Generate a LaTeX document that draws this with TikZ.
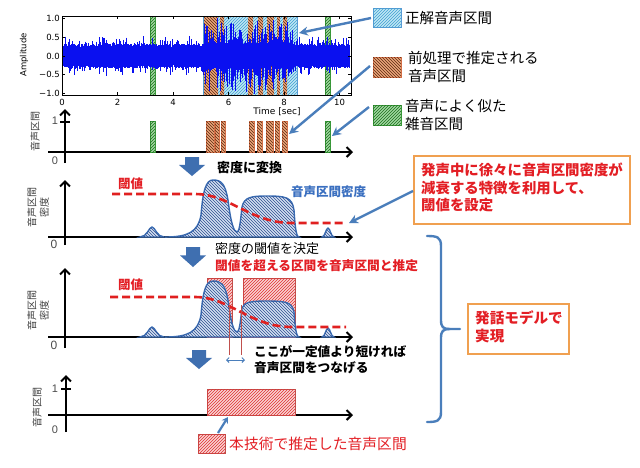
\documentclass[tikz,border=0pt]{standalone}
\usepackage{fontspec}
\setmainfont{Liberation Sans}
\newfontfamily\jp{Noto Sans CJK JP}
\newfontfamily\mpl{DejaVu Sans}
\usetikzlibrary{patterns,arrows.meta}
\definecolor{cyanbg}{HTML}{BFE6F5}
\definecolor{cyanln}{HTML}{3FA0D0}
\definecolor{cyanbd}{HTML}{5B9BD5}
\definecolor{orangebg}{HTML}{EBA57A}
\definecolor{orangeln}{HTML}{5A2A10}
\definecolor{orangebd}{HTML}{D9734A}
\definecolor{greenbg}{HTML}{9ED99E}
\definecolor{greenln}{HTML}{1E6B1E}
\definecolor{greenbd}{HTML}{3A9A3A}
\definecolor{redbg}{HTML}{F8D3D3}
\definecolor{redln}{HTML}{E03030}
\definecolor{redbd}{HTML}{C0504D}
\definecolor{densbg}{HTML}{D3DFF2}
\definecolor{densln}{HTML}{2E4E90}
\definecolor{densbd}{HTML}{3C6EB4}
\definecolor{txtred}{HTML}{E31E24}
\definecolor{txtblue}{HTML}{3A6FC0}
\definecolor{calloutblue}{HTML}{4A7EBB}
\definecolor{arrowblue}{HTML}{3F6FB0}
\definecolor{boxorange}{HTML}{F0A050}
\definecolor{threshred}{HTML}{E02020}
\definecolor{wave}{HTML}{0A10F0}
\newcommand\bigdownarrow[3]{%
  \fill[arrowblue] (#1-7,#2) -- (#1+7,#2) -- (#1+7,{#2+0.42*(#3-#2)}) -- (#1+13,{#2+0.42*(#3-#2)}) -- (#1,#3) -- (#1-13,{#2+0.42*(#3-#2)}) -- (#1-7,{#2+0.42*(#3-#2)}) -- cycle;}
\begin{document}
\begin{tikzpicture}[x=1pt,y=-1pt,
  cyanhatch/.style={fill=cyanbg, postaction={pattern=north east lines, pattern color=cyanln}},
  orangehatch/.style={fill=orangebg, postaction={pattern=north west lines, pattern color=orangeln}},
  greenhatch/.style={fill=greenbg, postaction={pattern=north east lines, pattern color=greenln}},
  redhatch/.style={fill=redbg, postaction={pattern=north east lines, pattern color=redln}, draw=redbd, line width=0.8pt},
  denshatch/.style={fill=densbg, postaction={pattern=north west lines, pattern color=densln}, draw=densbd, line width=1.4pt},
  axisline/.style={line width=2pt, -{Straight Barb[length=5pt,width=10pt]}},
  thresh/.style={threshred, line width=2.6pt, dash pattern=on 8pt off 4pt},
  callout/.style={calloutblue, line width=2.4pt, -{Stealth[length=9pt,width=9pt]}},
  jtxt/.style={font=\jp\fontsize{14.5}{18}\selectfont, inner sep=0pt, anchor=west, align=left},
  mtxt/.style={font=\jp\fontsize{13}{16}\selectfont, inner sep=0pt, anchor=west},
  ylab/.style={font=\jp\fontsize{10}{12.5}\selectfont, text=black!75, rotate=90, align=center, inner sep=0pt},
  numlab/.style={font=\fontsize{11}{12}\selectfont, text=black!70, inner sep=0pt},
  ticklab/.style={font=\mpl\fontsize{8.5}{9}\selectfont, inner sep=0pt},
  obox/.style={draw=boxorange, line width=1.6pt, fill=white}]
\useasboundingbox (0,0) rectangle (640,467);
\fill[white] (0,0) rectangle (640,467);

% ---------------- top waveform plot ----------------
\path[cyanhatch, draw=cyanbd, line width=0.6pt] (203,16) rectangle (297,95);
\foreach \a/\b in {204/218,220/224,248/253,258/263,267/274,277/280,283/287}
  \path[orangehatch] (\a,16) rectangle (\b,95);
\foreach \a/\b in {150/155,325/330}
  \path[greenhatch, draw=greenbd, line width=0.5pt] (\a,16) rectangle (\b,95);
\pgfmathsetseed{42}
\begin{scope}
\clip (62,16) rectangle (351,95);
\foreach \i in {0,...,1150}{
  \pgfmathsetmacro\xx{62+\i*0.25}
  \pgfmathsetmacro\sp{(\xx>203)*(\xx<292)}
  \pgfmathsetmacro\au{8 + 4*rnd + 9*rnd^14 + \sp*(1+24*rnd^7)}
  \pgfmathsetmacro\ad{8 + 4*rnd + 9*rnd^14 + \sp*(1+24*rnd^7)}
  \draw[wave, line width=0.4pt] (\xx,56-\au) -- (\xx,56+\ad);
}
\end{scope}
\draw[black, line width=0.6pt] (62,16) rectangle (351,95);
\foreach \t/\lab in {0/0,2/2,4/4,6/6,8/8,10/10}{
  \draw[line width=0.5pt] ({62+27.75*\t},95) -- ({62+27.75*\t},92);
  \draw[line width=0.5pt] ({62+27.75*\t},16) -- ({62+27.75*\t},19);
  \node[ticklab] (xt\t) at ({62+27.75*\t},102) {\lab};}
\foreach \yy/\lab [count=\k] in {18/1.0,37/0.5,56/0.0,74/−0.5,93/−1.0}{
  \draw[line width=0.5pt] (62,\yy) -- (65,\yy);
  \draw[line width=0.5pt] (351,\yy) -- (348,\yy);
  \node[ticklab, anchor=east] (yt\k) at (60,\yy) {\lab};}
\node[ticklab, rotate=90] (amp) at (24,55) {Amplitude};
\node[ticklab, font=\mpl\fontsize{9}{10}\selectfont] (timelab) at (277,112) {Time [sec]};

% ---------------- legend top right ----------------
\path[cyanhatch, draw=cyanbd, line width=0.8pt] (373,8) rectangle (401,27);
\coordinate (legC) at (371,18);
\node[jtxt] (legCt) at (405,18) {正解音声区間};
\path[orangehatch, draw=orangebd, line width=0.8pt] (373,57) rectangle (401,77);
\coordinate (legO) at (370,66);
\node[jtxt, anchor=north west] (legOt) at (408,51) {前処理で推定される\\音声区間};
\path[greenhatch, draw=greenbd, line width=0.8pt] (373,105) rectangle (401,125);
\coordinate (legG) at (369,107);
\node[jtxt, anchor=north west] (legGt) at (405,99) {音声によく似た\\雑音区間};

% ---------------- plot 2: binary ----------------
\draw[axisline] (65,163) -- (65,109);
\draw[line width=1.6pt] (60,122) -- (70,122);
\draw[axisline] (48,152) -- (353,152);
\node[numlab] (one2) at (55,121) {1};
\node[numlab] (zero2) at (55,161) {0};
\node[ylab] (yl2) at (35,131) {音声区間};
\foreach \a/\b in {206/214,215/219,221/225,249/254,257/262,266/273,275/279,282/287}
  \path[orangehatch, draw=orangebd, line width=0.5pt] (\a,121) rectangle (\b,152);
\foreach \a/\b in {150/155,325/330}
  \path[greenhatch, draw=greenbd, line width=0.5pt] (\a,121) rectangle (\b,152);

% callouts from legend
\coordinate (tipC) at (299,33);
\coordinate (tipO) at (289,134);
\coordinate (tipG) at (332,136);
\draw[callout] (legC) -- (tipC);
\draw[callout] (legO) -- (tipO);
\draw[callout] (legG) -- (tipG);

% arrow 1
\bigdownarrow{192}{157}{176}
\node[mtxt, font=\jp\bfseries\fontsize{13}{16}\selectfont] (conv) at (217,168) {密度に変換};

% ---------------- plot 3: density ----------------
\draw[axisline] (65,245) -- (65,180);
\draw[axisline] (48,237) -- (353,237);
\node[numlab, font=\fontsize{12}{13}\selectfont] (zero3) at (54,244) {0};
\node[ylab] (yl3) at (38,207) {音声区間\\密度};
\begin{scope}
\path[denshatch] (140,237) .. controls (147,237) and (149,227) .. (152,227) .. controls (155,227) and (157,237) .. (164,237) -- cycle;
\path[denshatch] (165,237) .. controls (188,237) and (198,232) .. (201,215) .. controls (203,190) and (206,180) .. (213,180) .. controls (221,180) and (225,183) .. (228,200) .. controls (231,224) and (234,232) .. (237,232) .. controls (240,232) and (241,214) .. (242,207) .. controls (244,197) and (252,196) .. (266,196) .. controls (286,196) and (292,197) .. (294,210) .. controls (295,225) and (296,237) .. (299,237) -- cycle;
\path[denshatch] (322,237) .. controls (325,237) and (326,228) .. (328,228) .. controls (330,228) and (331,237) .. (334,237) -- cycle;
\draw[thresh] (112,194) -- (195,194) .. controls (230,194) and (250,223) .. (292,223) -- (346,223);
\end{scope}
\draw[line width=2pt] (48,237) -- (60,237);
\node[mtxt, font=\jp\bfseries\fontsize{12.5}{15}\selectfont, text=txtred] (th3) at (118,184) {閾値};
\node[mtxt, font=\jp\bfseries\fontsize{12.5}{15}\selectfont, text=txtblue] (dens3) at (291,192) {音声区間密度};

% box 1
\node[obox, minimum width=216pt, minimum height=68pt, anchor=north west] (box1) at (413,155) {};
\node[jtxt, anchor=north west, font=\jp\bfseries\fontsize{14.4}{17.2}\selectfont, text=txtred] (box1t) at (421,163) {発声中に徐々に音声区間密度が\\減衰する特徴を利用して、\\閾値を設定};
\coordinate (tip3) at (349,223);
\draw[callout] (box1.west |- 0,191) -- (tip3);

% arrow 2
\bigdownarrow{193}{247}{267}
\node[mtxt] (decide) at (215,249) {密度の閾値を決定};
\node[mtxt, font=\jp\bfseries\fontsize{12.7}{15}\selectfont, text=txtred] (est) at (215,266) {閾値を超える区間を音声区間と推定};

% ---------------- plot 4 ----------------
\draw[axisline] (65,348) -- (65,268);
\draw[axisline] (48,337) -- (353,337);
\node[numlab, font=\fontsize{12}{13}\selectfont] (zero4) at (54,345) {0};
\node[ylab] (yl4) at (38,310) {音声区間\\密度};
\path[redhatch] (207,278) rectangle (232,337);
\path[redhatch] (243,278) rectangle (295,337);
\begin{scope}[shift={(0,100)}]
\path[denshatch] (140,237) .. controls (147,237) and (149,227) .. (152,227) .. controls (155,227) and (157,237) .. (164,237) -- cycle;
\path[denshatch] (165,237) .. controls (188,237) and (198,232) .. (201,215) .. controls (203,190) and (206,181) .. (213,181) .. controls (221,181) and (225,184) .. (228,200) .. controls (231,224) and (234,232) .. (237,232) .. controls (240,232) and (241,214) .. (242,208) .. controls (244,202) and (252,201) .. (266,201) .. controls (286,201) and (292,202) .. (294,212) .. controls (295,225) and (296,237) .. (299,237) -- cycle;
\path[denshatch] (322,237) .. controls (325,237) and (326,228) .. (328,228) .. controls (330,228) and (331,237) .. (334,237) -- cycle;
\draw[thresh] (110,197) -- (195,197) .. controls (230,197) and (250,227) .. (292,227) -- (346,227);
\end{scope}
\draw[line width=2pt] (48,337) -- (60,337);
\node[mtxt, font=\jp\bfseries\fontsize{12.5}{15}\selectfont, text=txtred] (th4) at (118,285) {閾値};
\draw[redbd, line width=1.6pt] (229.5,305) -- (229.5,355);
\draw[redbd, line width=1.6pt] (241.5,305) -- (241.5,355);
\coordinate (gapL) at (226,360);
\coordinate (gapR) at (245,360);
\draw[calloutblue, line width=0.9pt, {Straight Barb[length=2.5pt,width=5pt]}-{Straight Barb[length=2.5pt,width=5pt]}] (gapL) -- (gapR);
\node[mtxt, font=\jp\bfseries\fontsize{12.7}{16}\selectfont, anchor=north west, align=left] (join) at (254,345) {ここが一定値より短ければ\\音声区間をつなげる};

% arrow 3
\bigdownarrow{199}{350}{369}

% brace
\draw[calloutblue, line width=2.4pt, line cap=round] (427,236) .. controls (437,236) and (441,237) .. (441,246) -- (441,320) .. controls (441,327) and (443,329) .. (450,329) -- (460,329);
\draw[calloutblue, line width=2.4pt, line cap=round] (450,329) .. controls (443,329) and (441,331) .. (441,338) -- (441,412) .. controls (441,421) and (437,422) .. (427,422);
\coordinate (braceTip) at (460,329);
\node[obox, minimum width=101pt, minimum height=50pt, anchor=north west] (box2) at (467,303) {};
\node[jtxt, anchor=north west, font=\jp\bfseries\fontsize{14.6}{18}\selectfont, text=txtred] (box2t) at (475,310) {発話モデルで\\実現};

% ---------------- plot 5 ----------------
\draw[axisline] (66,432) -- (66,375);
\draw[line width=1.6pt] (61,389) -- (71,389);
\draw[axisline] (48,415) -- (353,415);
\node[numlab] (one5) at (55,389) {1};
\node[numlab] (zero5) at (55,430) {0};
\node[ylab] (yl5) at (37,407) {音声区間};
\path[redhatch] (207,389) rectangle (295,415);

% bottom legend
\path[redhatch] (198,434) rectangle (225,453);
\coordinate (legRbase) at (218,433);
\coordinate (legRtip) at (228,417);
\draw[calloutblue, line width=2.2pt, -{Stealth[length=6pt,width=7pt]}] (legRbase) -- (legRtip);
\node[jtxt, font=\jp\fontsize{14.8}{18}\selectfont, text=txtred] (legRt) at (229,444) {本技術で推定した音声区間};
\end{tikzpicture}
\end{document}
